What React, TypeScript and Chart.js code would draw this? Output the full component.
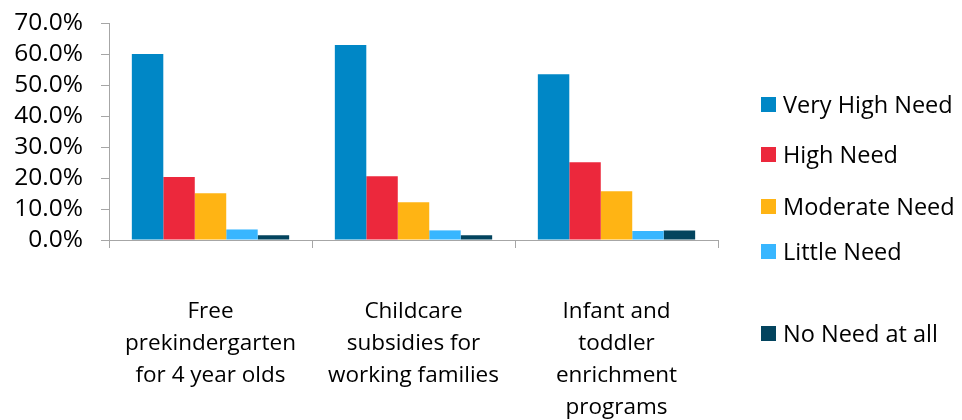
import React, { useEffect, useRef } from "react";
import { Chart, registerables } from "chart.js";

Chart.register(...registerables);

const categories: string[][] = [
  ["Free", "prekindergarten", "for 4 year olds"],
  ["Childcare", "subsidies for", "working families"],
  ["Infant and", "toddler", "enrichment", "programs"],
];

const seriesNames = [
  "Very High Need",
  "High Need",
  "Moderate Need",
  "Little Need",
  "No Need at all",
];

const veryHighNeed = [60.0, 62.9, 53.5];
const highNeed = [20.3, 20.6, 25.1];
const moderateNeed = [15.1, 12.2, 15.7];
const littleNeed = [3.4, 3.1, 2.9];
const noNeed = [1.5, 1.5, 3.1];

const seriesColors = ["#0087C6", "#EC283C", "#FFB414", "#38B6FF", "#03445E"];

const yTicks = [0, 10, 20, 30, 40, 50, 60, 70];

// vertical centre of each legend row
const legendRowY = [104, 154, 206, 251, 333];

const FONT = "'Open Sans', sans-serif";
const AXIS_GRAY = "#A6A6A6";

export default function App() {
  const canvasRef = useRef<HTMLCanvasElement | null>(null);

  useEffect(() => {
    document.body.style.margin = "0";
    const canvas = canvasRef.current;
    if (!canvas) return;
    const values = [veryHighNeed, highNeed, moderateNeed, littleNeed, noNeed];
    const chart = new Chart(canvas, {
      type: "bar",
      data: {
        labels: categories,
        datasets: seriesNames.map((name, i) => ({
          label: name,
          data: values[i],
          backgroundColor: seriesColors[i],
          borderWidth: 0,
          categoryPercentage: 0.775,
          barPercentage: 1,
        })),
      },
      options: {
        animation: false,
        responsive: false,
        maintainAspectRatio: false,
        layout: { padding: { left: 0, top: 23, right: 244, bottom: 0 } },
        plugins: {
          legend: { display: false },
          tooltip: { enabled: false },
        },
        scales: {
          x: {
            grid: {
              offset: true,
              drawOnChartArea: false,
              drawTicks: true,
              tickLength: 8,
              color: AXIS_GRAY,
            },
            border: { color: AXIS_GRAY, width: 1 },
            ticks: {
              color: "#000",
              padding: 48,
              maxRotation: 0,
              autoSkip: false,
              font: { family: FONT, size: 22.5, lineHeight: 32 / 22.5 },
            },
            afterFit: (scale: any) => {
              scale.height = 180;
            },
          },
          y: {
            min: 0,
            max: 70,
            afterBuildTicks: (scale: any) => {
              scale.ticks = yTicks.map((v) => ({ value: v }));
            },
            grid: {
              drawOnChartArea: false,
              drawTicks: true,
              tickLength: 8,
              color: AXIS_GRAY,
            },
            border: { color: AXIS_GRAY, width: 1 },
            ticks: {
              color: "#000",
              padding: 18,
              autoSkip: false,
              font: { family: FONT, size: 24.5 },
              callback: (v: any) => Number(v).toFixed(1) + "%",
            },
            afterFit: (scale: any) => {
              scale.width = 109;
              // the end labels fit inside the layout padding already
              scale.paddingTop = 0;
              scale.paddingBottom = 0;
            },
          },
        },
      },
    });
    return () => chart.destroy();
  }, []);

  return (
    <div style={{ position: "relative", width: 962, height: 420, background: "#fff" }}>
      <canvas ref={canvasRef} width={962} height={420} style={{ display: "block" }} />
      {seriesNames.map((name, i) => (
        <div
          key={name}
          style={{
            position: "absolute",
            left: 761,
            top: legendRowY[i] - 15,
            height: 30,
            display: "flex",
            alignItems: "center",
            fontFamily: FONT,
            fontSize: 23.5,
            lineHeight: "30px",
            color: "#000",
            whiteSpace: "nowrap",
          }}
        >
          <span
            style={{
              display: "inline-block",
              width: 15,
              height: 15,
              background: seriesColors[i],
              marginRight: 7,
            }}
          />
          <span>{name}</span>
        </div>
      ))}
    </div>
  );
}
